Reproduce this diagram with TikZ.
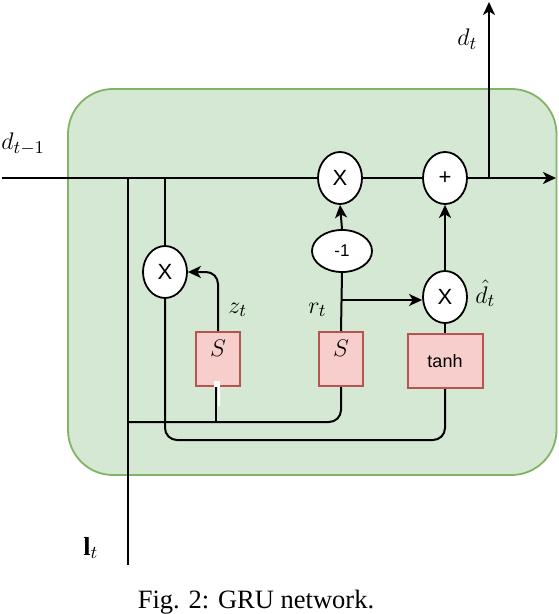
\documentclass[tikz,border=0pt]{standalone}
\usepackage{fontspec}
\setmainfont{Liberation Serif}
\newfontfamily\arialf{Liberation Sans}
\usetikzlibrary{shapes.geometric,arrows.meta}
\definecolor{cellfill}{HTML}{D5E8D4}
\definecolor{celldraw}{HTML}{82B366}
\definecolor{gatefill}{HTML}{F8CECC}
\definecolor{gatedraw}{HTML}{B85450}
\tikzset{
  wire/.style={line width=1pt,black},
  arr/.style={wire,-{Stealth[length=6.5pt,width=6pt,inset=1.8pt]}},
  opnode/.style={ellipse,draw,line width=0.9pt,fill=white,inner sep=0pt,minimum width=22pt,minimum height=26pt,font=\arialf\fontsize{11}{13}\selectfont},
  negnode/.style={ellipse,draw,line width=0.9pt,fill=white,inner sep=0pt,minimum width=30pt,minimum height=21pt,font=\arialf\fontsize{8.5}{10}\selectfont},
  gatebox/.style={rectangle,draw=gatedraw,fill=gatefill,line width=1pt,inner sep=0pt,minimum width=22pt,minimum height=27pt},
  tanhbox/.style={gatebox,minimum width=37.5pt,font=\arialf\fontsize{9}{11}\selectfont},
  lbl/.style={inner sep=0pt,anchor=base west,font=\fontsize{13}{15}\selectfont},
}
\begin{document}
\begin{tikzpicture}[x=0.5pt,y=-0.5pt]
\useasboundingbox (0,0) rectangle (558,614);
% cell
\path[fill=cellfill,draw=celldraw,line width=0.9pt,rounded corners=22.5pt] (68,89) rectangle (556.5,475);
% nodes
\node[opnode] (mulA) at (340,178) {X};
\node[opnode] (plus) at (445,178) {+};
\node[negnode] (neg) at (342,251) {-1};
\node[opnode] (mulZ) at (165,272) {X};
\node[opnode] (mulR) at (445,297) {X};
\node[gatebox] (s1) at (218,359) {};
\node[gatebox] (s2) at (341,359) {};
\node[tanhbox] (th) at (445,361) {tanh};
\node[inner sep=0pt,anchor=base,font=\fontsize{13}{15}\selectfont] (s1l) at (218,356) {$S$};
\node[inner sep=0pt,anchor=base,font=\fontsize{13}{15}\selectfont] (s2l) at (341,356) {$S$};
% coordinates
\coordinate (in) at (2,178);
\coordinate (out) at (556,178);
\coordinate (up) at (489,2);
\coordinate (jA) at (128,178);
\coordinate (jB) at (165,178);
\coordinate (jC) at (489,178);
\coordinate (lin) at (128,565);
\coordinate (jD) at (128,422);
\coordinate (jE) at (216,422);
\coordinate (jF) at (341,300);
\coordinate (jG) at (445,440);
% wires
\draw[wire] (in) -- (mulA.west);
\draw[wire] (mulA.east) -- (plus.west);
\draw[arr] (plus.east) -- (out);
\draw[arr] (jC) -- (up);
\draw[wire] (jA) -- (lin);
\draw[wire] (jB) -- (mulZ.north);
\draw[arr,rounded corners=6pt] (s1.north) |- (mulZ.east);
\draw[arr] (neg.north) -- (mulA.south);
\draw[wire] (s2.north) -- (neg.south);
\draw[arr] (jF) -- (jF -| mulR.west);
\draw[arr] (mulR.north) -- (plus.south);
\draw[wire] (mulR.south) -- (th.north);
\draw[wire,rounded corners=6pt] (jD) -| (s2.south);
\draw[wire] (jE) -- (jE |- s1.south);
\draw[wire,rounded corners=6pt] (mulZ.south) |- (jG) -- (th.south);
% small white mark
\fill[white] (214,381) rectangle (220,387);
\fill[white] (217.5,387) rectangle (219.5,406);
% labels
\node[lbl] (ldprev) at (1,150) {$d_{t-1}$};
\node[lbl] (ldt) at (457,46) {$d_t$};
\node[lbl] (lz) at (228,313) {$z_t$};
\node[lbl] (lr) at (308,313) {$r_t$};
\node[lbl] (ldh) at (475,303) {$\hat{d}_t$};
\node[lbl] (ll) at (83,555) {$\mathbf{l}_t$};
\node[inner sep=0pt,anchor=base,font=\fontsize{13.25}{16}\selectfont] (cap) at (256,608) {Fig. 2: GRU network.};
\end{tikzpicture}
\end{document}
